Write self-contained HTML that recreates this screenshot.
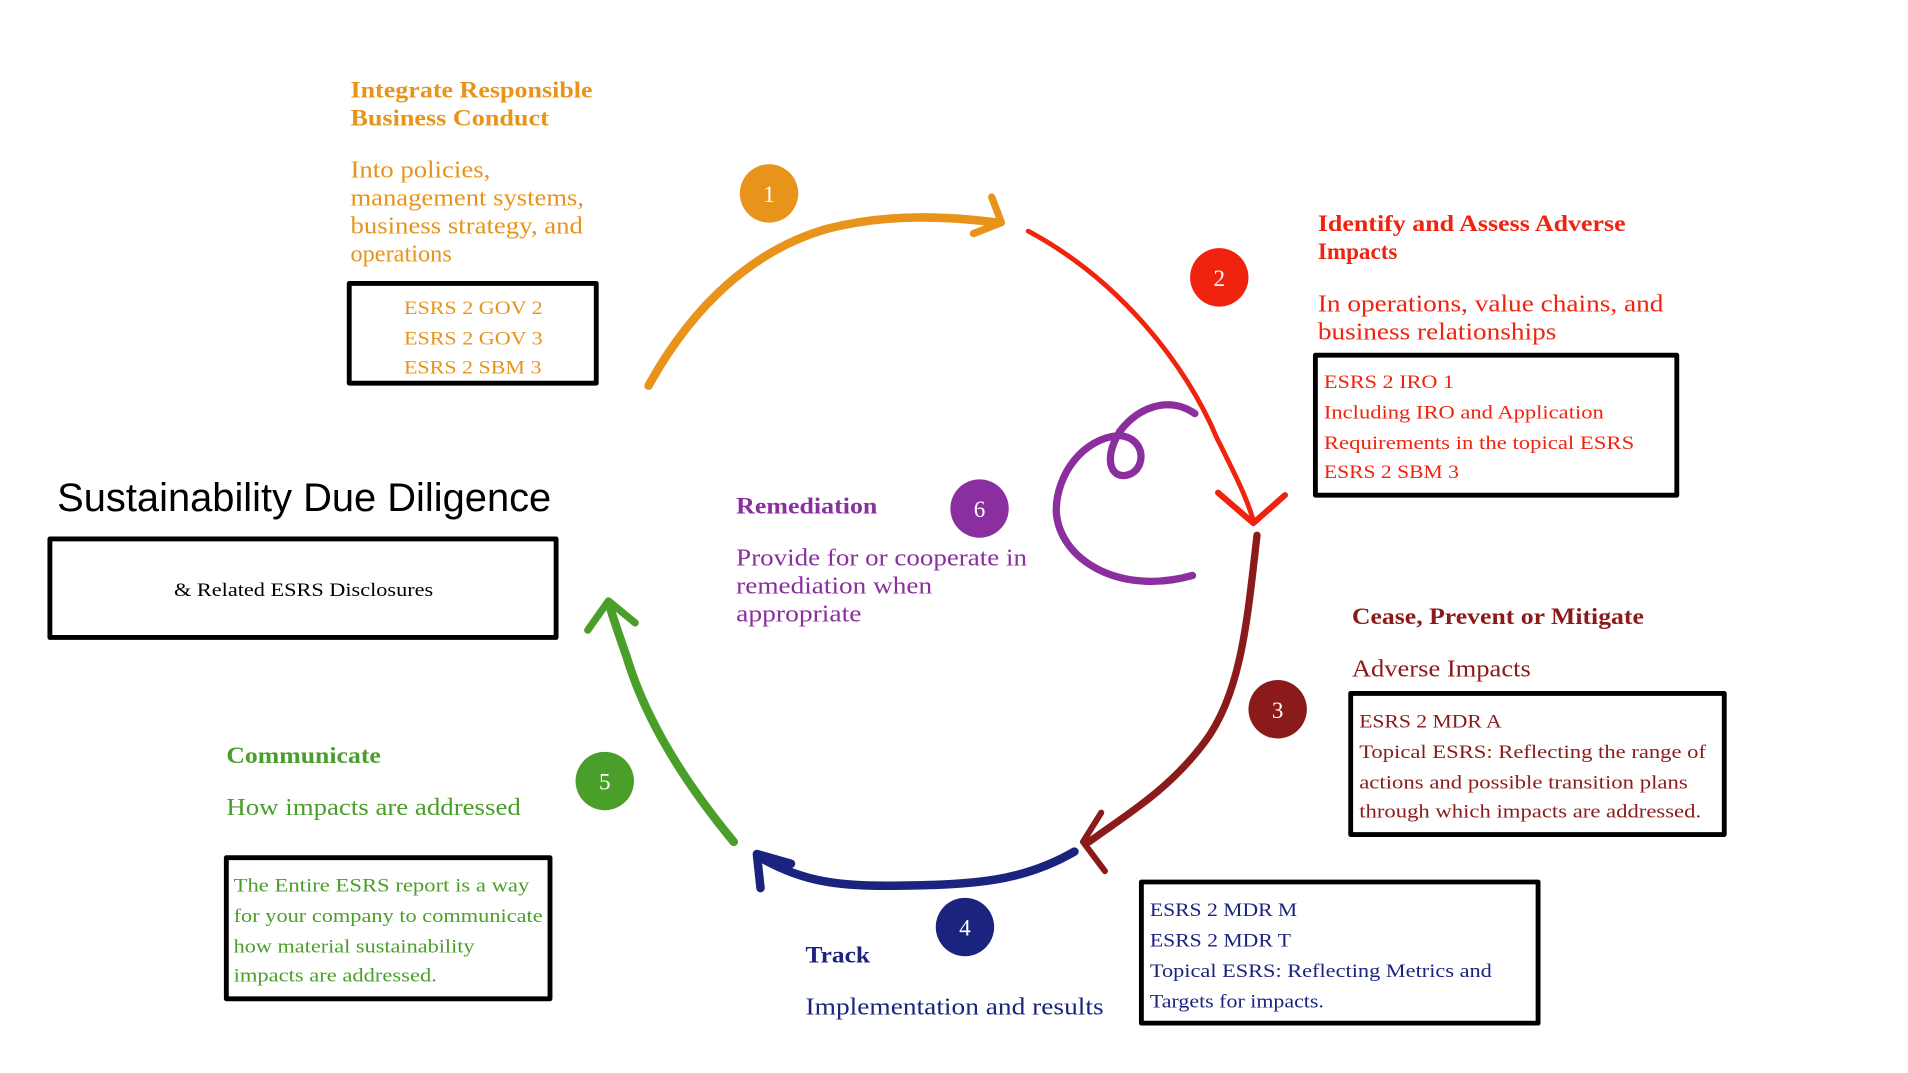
<!DOCTYPE html>
<html><head><meta charset="utf-8"><style>
html,body{margin:0;padding:0;background:#fff;}
svg{display:block;}
text{font-family:"Liberation Serif",serif;}
</style></head><body>
<svg width="1908" height="1073" viewBox="0 0 1568 882" preserveAspectRatio="none" xmlns="http://www.w3.org/2000/svg">
<rect width="1568" height="882" fill="#fff"/>
<g fill="none" stroke-linecap="round" stroke-linejoin="round">
<path d="M533,317 C570,250 620,205 680,188 C730,175 780,178 820,183" stroke="#E8941A" stroke-width="7"/>
<path d="M815,162 L823,183 L800,192" stroke="#E8941A" stroke-width="6"/>
<path d="M845,190 C920,230 975,300 1000,360 C1015,390 1025,410 1030,428" stroke="#F0230F" stroke-width="4"/>
<path d="M1001,405 L1030,430 L1056,407" stroke="#F0230F" stroke-width="5"/>
<path d="M1033,440 C1025,510 1020,570 990,610 C960,650 925,670 895,692" stroke="#8B1A1A" stroke-width="6"/>
<path d="M905,668 L890,692 L908,716" stroke="#8B1A1A" stroke-width="5"/>
<path d="M883,700 C840,725 800,727 740,728 C690,729 660,725 625,705" stroke="#1A237E" stroke-width="7"/>
<path d="M625,730 L622,702 L650,710" stroke="#1A237E" stroke-width="7"/>
<path d="M603,692 C560,640 530,590 515,540 C508,520 503,505 500,495" stroke="#4A9E2A" stroke-width="7"/>
<path d="M483,518 L500,494 L522,512" stroke="#4A9E2A" stroke-width="6"/>
<path d="M982,340 C960,325 935,335 920,355 C905,380 915,395 928,390 C942,385 942,360 920,358 C890,360 868,390 868,420 C870,460 920,490 980,473" stroke="#8B2FA0" stroke-width="6"/>
<g stroke="#000" stroke-width="4">
<rect x="287" y="233" width="203" height="82"/>
<rect x="1081" y="292" width="297" height="115"/>
<rect x="1110" y="570" width="307" height="116"/>
<rect x="938" y="725" width="326" height="116"/>
<rect x="186" y="705" width="266" height="116"/>
<rect x="41" y="443" width="416" height="81"/>
</g>
</g>
<g font-size="19" text-anchor="middle" fill="#fff">
<circle cx="632" cy="159" r="24" fill="#E8941A"/><text x="632" y="166" fill="#fff">1</text>
<circle cx="1002" cy="228" r="24" fill="#F0230F"/><text x="1002" y="235" fill="#fff">2</text>
<circle cx="1050" cy="583" r="24" fill="#8B1A1A"/><text x="1050" y="590" fill="#fff">3</text>
<circle cx="793" cy="762" r="24" fill="#1A237E"/><text x="793" y="769" fill="#fff">4</text>
<circle cx="497" cy="642" r="24" fill="#4A9E2A"/><text x="497" y="649" fill="#fff">5</text>
<circle cx="805" cy="418" r="24" fill="#8B2FA0"/><text x="805" y="425" fill="#fff">6</text>
</g>
<g lengthAdjust="spacingAndGlyphs">
<g fill="#E8941A">
<text x="288" y="80" font-size="19" font-weight="bold" textLength="199" lengthAdjust="spacingAndGlyphs">Integrate Responsible</text>
<text x="288" y="103" font-size="19" font-weight="bold" textLength="163" lengthAdjust="spacingAndGlyphs">Business Conduct</text>
<g font-size="20"><text x="288" y="146" textLength="115" lengthAdjust="spacingAndGlyphs">Into policies,</text><text x="288" y="169" textLength="192" lengthAdjust="spacingAndGlyphs">management systems,</text><text x="288" y="192" textLength="191" lengthAdjust="spacingAndGlyphs">business strategy, and</text><text x="288" y="215">operations</text></g>
<g font-size="16"><text x="332" y="258" textLength="114" lengthAdjust="spacingAndGlyphs">ESRS 2 GOV 2</text><text x="332" y="283" textLength="114" lengthAdjust="spacingAndGlyphs">ESRS 2 GOV 3</text><text x="332" y="307" textLength="113" lengthAdjust="spacingAndGlyphs">ESRS 2 SBM 3</text></g>
</g>
<g fill="#F0230F">
<text x="1083" y="190" font-size="19" font-weight="bold" textLength="253" lengthAdjust="spacingAndGlyphs">Identify and Assess Adverse</text>
<text x="1083" y="213" font-size="19" font-weight="bold">Impacts</text>
<text x="1083" y="256" font-size="20" textLength="284" lengthAdjust="spacingAndGlyphs">In operations,  value chains, and</text>
<text x="1083" y="279" font-size="20" textLength="196" lengthAdjust="spacingAndGlyphs">business relationships</text>
<g font-size="16"><text x="1088" y="319" textLength="107" lengthAdjust="spacingAndGlyphs">ESRS 2 IRO 1</text><text x="1088" y="344" textLength="230" lengthAdjust="spacingAndGlyphs">Including IRO and Application</text><text x="1088" y="369" textLength="255" lengthAdjust="spacingAndGlyphs">Requirements in the topical ESRS</text><text x="1088" y="393" textLength="111" lengthAdjust="spacingAndGlyphs">ESRS 2 SBM 3</text></g>
</g>
<g fill="#8B1A1A">
<text x="1111" y="513" font-size="19" font-weight="bold" textLength="240" lengthAdjust="spacingAndGlyphs">Cease, Prevent or Mitigate</text>
<text x="1111" y="556" font-size="20" textLength="147" lengthAdjust="spacingAndGlyphs">Adverse Impacts</text>
<g font-size="16"><text x="1117" y="598" textLength="117" lengthAdjust="spacingAndGlyphs">ESRS 2 MDR A</text><text x="1117" y="623" textLength="285" lengthAdjust="spacingAndGlyphs">Topical ESRS:  Reflecting the range of</text><text x="1117" y="648" textLength="270" lengthAdjust="spacingAndGlyphs">actions and possible transition plans</text><text x="1117" y="672" textLength="281" lengthAdjust="spacingAndGlyphs">through which impacts are addressed.</text></g>
</g>
<g fill="#1A237E">
<text x="662" y="791" font-size="19" font-weight="bold" textLength="53" lengthAdjust="spacingAndGlyphs">Track</text>
<text x="662" y="834" font-size="20" textLength="245" lengthAdjust="spacingAndGlyphs">Implementation and results</text>
<g font-size="16"><text x="945" y="753" textLength="121" lengthAdjust="spacingAndGlyphs">ESRS 2 MDR M</text><text x="945" y="778" textLength="116" lengthAdjust="spacingAndGlyphs">ESRS 2 MDR T</text><text x="945" y="803" textLength="281" lengthAdjust="spacingAndGlyphs">Topical ESRS:  Reflecting Metrics and</text><text x="945" y="828" textLength="143" lengthAdjust="spacingAndGlyphs">Targets for impacts.</text></g>
</g>
<g fill="#4A9E2A">
<text x="186" y="627" font-size="19" font-weight="bold" textLength="127" lengthAdjust="spacingAndGlyphs">Communicate</text>
<text x="186" y="670" font-size="20" textLength="242" lengthAdjust="spacingAndGlyphs">How impacts are addressed</text>
<g font-size="16"><text x="192" y="733" textLength="243" lengthAdjust="spacingAndGlyphs">The Entire ESRS report is a way</text><text x="192" y="758" textLength="254" lengthAdjust="spacingAndGlyphs">for your company to communicate</text><text x="192" y="783" textLength="198" lengthAdjust="spacingAndGlyphs">how material sustainability</text><text x="192" y="807" textLength="167" lengthAdjust="spacingAndGlyphs">impacts are addressed.</text></g>
</g>
<g fill="#8B2FA0">
<text x="605" y="422" font-size="19" font-weight="bold" textLength="116" lengthAdjust="spacingAndGlyphs">Remediation</text>
<g font-size="20"><text x="605" y="465" textLength="239" lengthAdjust="spacingAndGlyphs">Provide for or cooperate in</text><text x="605" y="488" textLength="161" lengthAdjust="spacingAndGlyphs">remediation when</text><text x="605" y="511" textLength="103" lengthAdjust="spacingAndGlyphs">appropriate</text></g>
</g>
</g>
<text x="47" y="420" font-size="33" fill="#000" style="font-family:'Liberation Sans',sans-serif" textLength="406" lengthAdjust="spacingAndGlyphs">Sustainability Due Diligence</text>
<text x="143" y="490" font-size="16" fill="#000" textLength="213" lengthAdjust="spacingAndGlyphs">&amp; Related ESRS Disclosures</text>
</svg>
</body></html>
